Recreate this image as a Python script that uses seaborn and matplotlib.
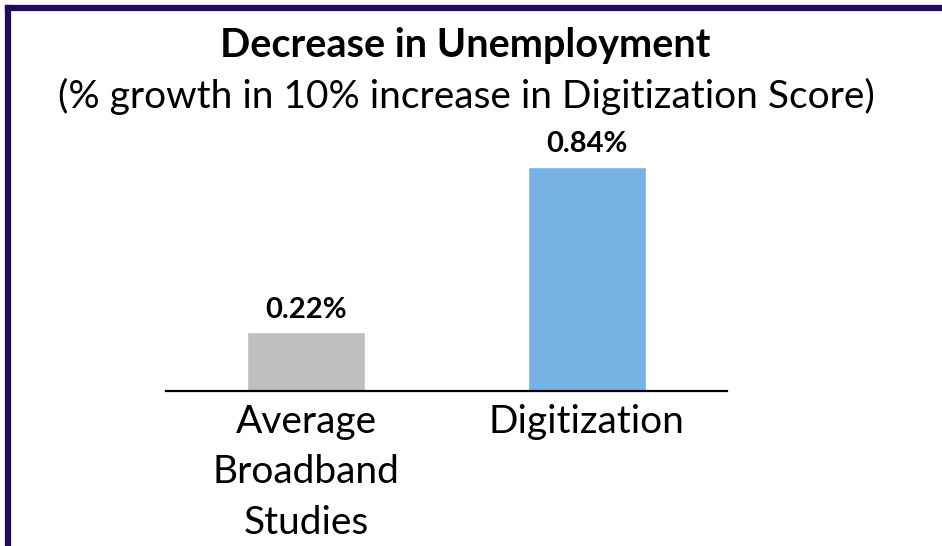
import matplotlib
matplotlib.use("Agg")
import matplotlib.pyplot as plt
import seaborn as sns
import pandas as pd
from matplotlib.lines import Line2D

categories = ["Average\nBroadband\nStudies", "Digitization"]
values = [0.22, 0.84]
value_labels = ["0.22%", "0.84%"]
colors = ["#BFBFBF", "#77B2E4"]
title = "Decrease in Unemployment"
subtitle = "(% growth in 10% increase in Digitization Score)"

sns.set_theme(style="white")
plt.rcParams['font.family'] = ['Lato', 'DejaVu Sans']

W, H = 942, 546
fig = plt.figure(figsize=(W / 100, H / 100), dpi=100)
fig.patch.set_facecolor("white")

# axes: x 166..727, y 150..391 (pixels from top)
ax = fig.add_axes([166 / W, 1 - 391 / H, (727 - 166) / W, (391 - 150) / H])
df = pd.DataFrame({"cat": categories, "val": values})
sns.barplot(data=df, x="cat", y="val", hue="cat", palette=colors, width=0.42,
            legend=False, ax=ax, saturation=1)
ax.set_xlim(-0.5, 1.5)
ax.set_ylim(0, 241 / 266.7)
for s in ["top", "right", "left"]:
    ax.spines[s].set_visible(False)
ax.spines["bottom"].set_color("black")
ax.spines["bottom"].set_linewidth(1.6)
ax.set_yticks([])
ax.set_xlabel("")
ax.set_ylabel("")
ax.tick_params(axis="x", length=0, pad=9, labelsize=28, labelcolor="black")
for lbl in ax.get_xticklabels():
    lbl.set_linespacing(1.5)
    lbl.set_verticalalignment("top")

for i, (v, t) in enumerate(zip(values, value_labels)):
    ax.annotate(t, (i, v), xytext=(0, 7), textcoords="offset points",
                ha="center", va="bottom", fontsize=21, fontweight="bold", color="black")

fig.text(465 / W, 1 - 45 / H, title, ha="center", va="center", fontsize=28.5,
         fontweight="bold", color="black")
fig.text(466 / W, 1 - 96 / H, subtitle, ha="center", va="center", fontsize=28,
         color="black")

# border: left and top
border = "#1F0A5E"
fig.add_artist(Line2D([8 / W, 8 / W], [0, 1 - 8 / H], transform=fig.transFigure,
                      color=border, linewidth=4.5, solid_capstyle="projecting"))
fig.add_artist(Line2D([8 / W, 1], [1 - 8 / H, 1 - 8 / H], transform=fig.transFigure,
                      color=border, linewidth=4.5, solid_capstyle="projecting"))

fig.savefig("out.png", dpi=100, facecolor="white")
